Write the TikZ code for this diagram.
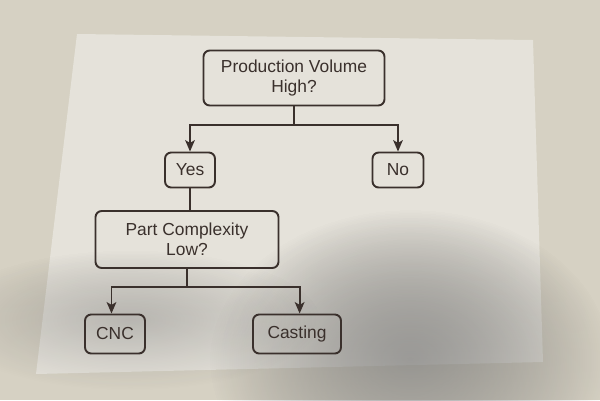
\documentclass[tikz,border=0pt]{standalone}
\usepackage{fontspec}
\setmainfont{Liberation Sans}
\usetikzlibrary{arrows.meta,fadings}

\definecolor{wall}{HTML}{D6D1C3}
\definecolor{sheet}{HTML}{E5E2DA}
\definecolor{ink}{HTML}{3A302C}
\definecolor{shade}{HTML}{4A4238}

\tikzfading[name=softspot, inner color=transparent!20, outer color=transparent!100]

\tikzset{
  box/.style={draw=ink, line width=1.1pt, rounded corners=3.5pt, text=ink,
    align=center, inner sep=0pt, font=\fontsize{9.9}{11.5}\selectfont},
  flow/.style={draw=ink, line width=1.1pt, -{Stealth[length=6.5pt,width=5.5pt,inset=1.6pt]}},
  link/.style={draw=ink, line width=1.1pt}
}

\begin{document}
\begin{tikzpicture}[x=0.02cm, y=-0.02cm]
  \useasboundingbox (0,0) rectangle (600,400);
  % Wall and sheet
  \fill[wall] (0,0) rectangle (600,400);
  \fill[sheet] (77,34) -- (533,40) -- (543,362) -- (36,374) -- cycle;
  \fill[shade, opacity=0.55, path fading=softspot]
    (410,360) ellipse [x radius=200, y radius=150];
  \fill[shade, opacity=0.25, path fading=softspot]
    (130,320) ellipse [x radius=190, y radius=70];

  % Define nodes
  \node[box, minimum width=3.62cm, minimum height=1.1cm]  (volume)  at (294,78)    {Production Volume\\High?};
  \node[box, minimum width=1.0cm,  minimum height=0.7cm]  (yes)     at (190,170)   {Yes};
  \node[box, minimum width=1.02cm, minimum height=0.7cm]  (no)      at (398,170)   {No};
  \node[box, minimum width=3.66cm, minimum height=1.14cm] (complex) at (187,239.5) {Part Complexity\\Low?};
  \node[box, minimum width=1.2cm,  minimum height=0.78cm] (cnc)     at (115,334)   {CNC};
  \node[box, minimum width=1.76cm, minimum height=0.78cm] (casting) at (297,334)   {Casting};

  \coordinate (split1) at (294,125);
  \coordinate (split2) at (187,287);

  % Connect the nodes
  \draw[link] (volume.south) -- (split1);
  \draw[flow] (split1) -| (yes.north);
  \draw[flow] (split1) -| (no.north);
  \draw[link] (yes.south) -- (yes.south |- complex.north);
  \draw[link] (complex.south) -- (split2);
  \draw[flow] (split2) -| ([xshift=-2pt]cnc.north);
  \draw[flow] (split2) -| ([xshift=1.5pt]casting.north);
\end{tikzpicture}
\end{document}
